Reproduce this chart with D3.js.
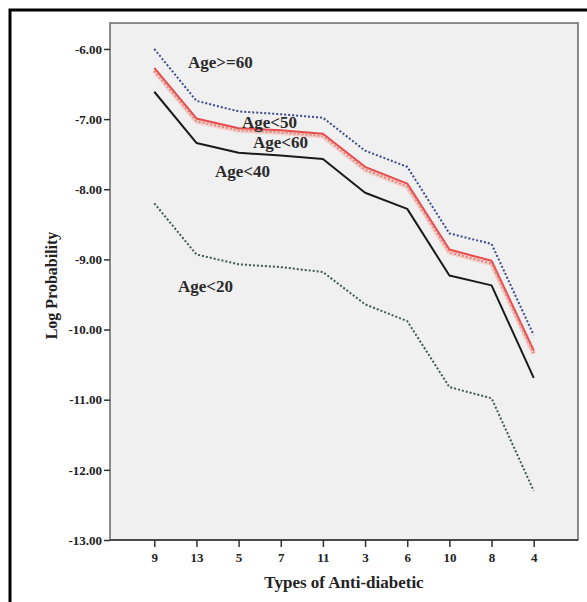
<!DOCTYPE html>
<html>
<head>
<meta charset="utf-8">
<script src="https://cdn.jsdelivr.net/npm/d3@7"></script>
<style>
  html, body { margin: 0; padding: 0; background: #fff; }
  svg { display: block; }
  .axis text { font-family: "Liberation Serif", "Times New Roman", serif; font-weight: bold; font-size: 13px; fill: #222; }
  .axis path, .axis line { stroke: #333; stroke-width: 1.5; }
</style>
</head>
<body>
<svg id="chart" width="587" height="602"></svg>
<script>
(function () {
	'use strict';

	// --- Data ---
	var categories = ['9', '13', '5', '7', '11', '3', '6', '10', '8', '4'];
	var yTicks     = [-6, -7, -8, -9, -10, -11, -12, -13];

	var ageGe60 = [-6.00, -6.74, -6.89, -6.93, -6.98, -7.45, -7.68, -8.63, -8.78, -10.08];
	var ageLt50 = [-6.27, -6.99, -7.13, -7.16, -7.21, -7.68, -7.92, -8.86, -9.02, -10.30];
	var ageLt60 = [-6.31, -7.03, -7.16, -7.19, -7.24, -7.72, -7.96, -8.90, -9.06, -10.34];
	var ageLt40 = [-6.61, -7.34, -7.48, -7.52, -7.57, -8.05, -8.28, -9.23, -9.37, -10.69];
	var ageLt20 = [-8.20, -8.93, -9.07, -9.11, -9.18, -9.64, -9.88, -10.82, -10.98, -12.30];

	// --- Layout ---
	var PLOT = { left: 110, right: 578, top: 23, bottom: 540 };
	var FONT = '"Liberation Serif", "Times New Roman", serif';

	var svg = d3.select('#chart');

	// outer frame (runs off the right/bottom edge in the original)
	svg.append('rect')
		.attr('x', 10).attr('y', 10)
		.attr('width', 620).attr('height', 620)
		.attr('fill', '#fff')
		.attr('stroke', '#000')
		.attr('stroke-width', 3);

	var x = d3.scalePoint()
		.domain(categories)
		.range([PLOT.left, PLOT.right])
		.padding(1.05);

	var y = d3.scaleLinear()
		.domain([-13, -5.63])
		.range([PLOT.bottom, PLOT.top]);

	// fractional position along the category axis (for text labels)
	function xAt(i) { return x(categories[0]) + i * x.step(); }

	// plain hyphen instead of d3's unicode minus, as in the original
	var fmt = d3.formatLocale({ decimal: '.', thousands: ',', grouping: [3], currency: ['', ''], minus: '-' }).format('.2f');

	svg.append('rect')
		.attr('x', PLOT.left).attr('y', PLOT.top)
		.attr('width', PLOT.right - PLOT.left)
		.attr('height', PLOT.bottom - PLOT.top)
		.attr('fill', '#f0f0f0')
		.attr('stroke', '#6a6a6a')
		.attr('stroke-width', 1.5);

	svg.append('g')
		.attr('class', 'axis')
		.attr('transform', 'translate(' + PLOT.left + ',0)')
		.call(d3.axisLeft(y).tickValues(yTicks).tickFormat(fmt).tickSize(6).tickPadding(2))
		.call(function (g) { g.select('.domain').remove(); });

	svg.append('g')
		.attr('class', 'axis')
		.attr('transform', 'translate(0,' + PLOT.bottom + ')')
		.call(d3.axisBottom(x).tickSize(7).tickPadding(6))
		.call(function (g) { g.select('.domain').remove(); });

	svg.append('line')
		.attr('x1', PLOT.left).attr('x2', PLOT.right)
		.attr('y1', PLOT.bottom).attr('y2', PLOT.bottom)
		.attr('stroke', '#333').attr('stroke-width', 1.5);

	// axis titles
	svg.append('text')
		.attr('x', (PLOT.left + PLOT.right) / 2)
		.attr('y', 588)
		.attr('text-anchor', 'middle')
		.style('font-family', FONT).style('font-weight', 'bold').style('font-size', '17px')
		.style('fill', '#222')
		.text('Types of Anti-diabetic');

	svg.append('text')
		.attr('transform', 'translate(57,' + ((PLOT.top + PLOT.bottom) / 2 + 4) + ') rotate(-90)')
		.attr('text-anchor', 'middle')
		.style('font-family', FONT).style('font-weight', 'bold').style('font-size', '16px')
		.style('fill', '#222')
		.text('Log Probability');

	// --- Lines ---
	var line = d3.line()
		.x(function (d, i) { return x(categories[i]); })
		.y(function (d) { return y(d); });

	var series = [
		{ values: ageLt20, color: '#3e5a4c', width: 2,   dash: '2,2' },
		{ values: ageLt60, color: '#f2b8b0', width: 5,   dash: null, opacity: 0.6 },
		{ values: ageLt50, color: '#e84a4e', width: 2,   dash: null },
		{ values: ageLt60, color: '#e0887a', width: 2,   dash: '2,2' },
		{ values: ageLt40, color: '#1a1a1a', width: 2,   dash: null },
		{ values: ageGe60, color: '#3c4a8e', width: 2,   dash: '2,2' }
	];

	series.forEach(function (s) {
		svg.append('path')
			.datum(s.values)
			.attr('d', line)
			.attr('fill', 'none')
			.attr('stroke', s.color)
			.attr('stroke-width', s.width)
			.attr('stroke-dasharray', s.dash)
			.attr('stroke-opacity', s.opacity || 1)
			.attr('stroke-linejoin', 'round');
	});

	// --- Series labels ---
	var labels = [
		{ text: 'Age>=60', i: 0.80, v: -6.27 },
		{ text: 'Age<50',  i: 2.08, v: -7.13 },
		{ text: 'Age<60',  i: 2.34, v: -7.41 },
		{ text: 'Age<40',  i: 1.44, v: -7.82 },
		{ text: 'Age<20',  i: 0.56, v: -9.46 }
	];

	svg.selectAll('text.series-label')
		.data(labels)
		.enter()
		.append('text')
		.attr('class', 'series-label')
		.attr('x', function (d) { return xAt(d.i); })
		.attr('y', function (d) { return y(d.v); })
		.style('font-family', FONT)
		.style('font-weight', 'bold')
		.style('font-size', '17px')
		.style('fill', '#2a2a2a')
		.text(function (d) { return d.text; });
})();
</script>
</body>
</html>
